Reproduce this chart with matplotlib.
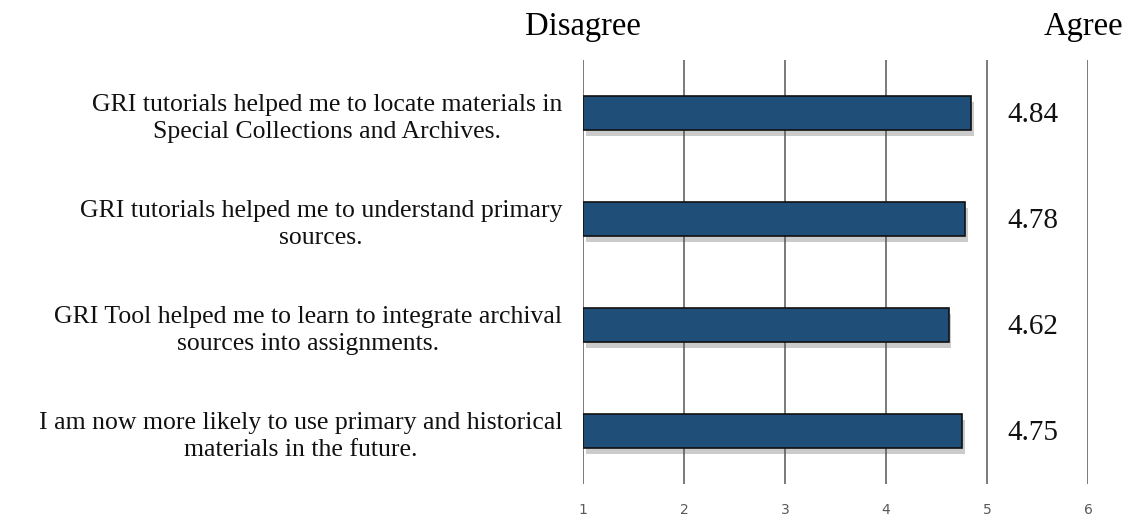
import matplotlib
matplotlib.use("Agg")
import matplotlib.pyplot as plt
import matplotlib.patheffects as pe

categories = [
    "GRI tutorials helped me to locate materials in\nSpecial Collections and Archives.",
    "GRI tutorials helped me to understand primary\nsources.",
    "GRI Tool helped me to learn to integrate archival\nsources into assignments.",
    "I am now more likely to use primary and historical\nmaterials in the future.",
]
values = [4.84, 4.78, 4.62, 4.75]
value_labels = ["4.84", "4.78", "4.62", "4.75"]
xticks = [1, 2, 3, 4, 5, 6]
scale_start = 1

serif = ["Liberation Serif", "DejaVu Serif"]

fig = plt.figure(figsize=(11.24, 5.18), dpi=100)
ax = fig.add_axes([583 / 1124, 34 / 518, (1088 - 583) / 1124, (484 - 60) / 518])

ax.set_xlim(1, 6)
ax.set_ylim(3.5, -0.5)
for x in xticks:
    ax.axvline(x, color="#7a7a7a", lw=1.4, zorder=0)

ypos = list(range(len(categories)))
bars = ax.barh(ypos, [v - scale_start for v in values], left=scale_start, height=0.32,
               color="#1F4E79", edgecolor="#111111", linewidth=1.2, zorder=3)
for b in bars:
    b.set_path_effects([pe.SimplePatchShadow(offset=(2, -4), shadow_rgbFace="#555555", alpha=0.3),
                        pe.Normal()])

for y, lab in zip(ypos, value_labels):
    ax.text(5.45, y + 0.02, lab, ha="center", va="center", fontsize=21, family=serif, color="#111111")

ax.set_yticks(ypos)
ax.set_yticklabels(categories, family=serif, fontsize=18.5, multialignment="center",
                   color="#111111", linespacing=1.3)
ax.tick_params(axis="y", length=0, pad=15)

ax.set_xticks(xticks)
ax.set_xticklabels([str(t) for t in xticks], fontsize=10, color="#595959")
ax.tick_params(axis="x", length=0, pad=14, colors="#595959")
for s in ax.spines.values():
    s.set_visible(False)

fig.text(583 / 1124, 1 - 27 / 518, "Disagree", ha="center", va="center", fontsize=23.5, family=serif)
fig.text(1083 / 1124, 1 - 27 / 518, "Agree", ha="center", va="center", fontsize=23.5, family=serif)

fig.savefig("out.png", dpi=100)
